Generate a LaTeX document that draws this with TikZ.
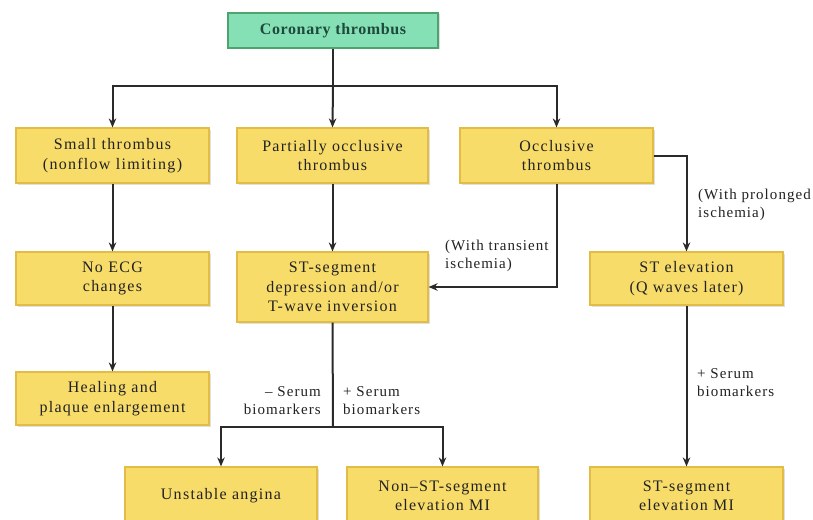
\documentclass[tikz,border=0pt]{standalone}
\usepackage{fontspec}
\setmainfont{Liberation Serif}
\newfontfamily\boxfont[LetterSpace=8]{Liberation Serif}
\newfontfamily\topfont[LetterSpace=4]{Liberation Serif}
\newfontfamily\lblfont[LetterSpace=7]{Liberation Serif}
\usetikzlibrary{arrows.meta,shadows}
\definecolor{boxfill}{HTML}{F8DC6A}
\definecolor{boxline}{HTML}{E2BC45}
\definecolor{topfill}{HTML}{86E0B6}
\definecolor{topline}{HTML}{4FA36F}
\definecolor{toptext}{HTML}{1E4A3C}
\definecolor{txt}{HTML}{222222}
\definecolor{wire}{HTML}{2A2A2A}
\tikzset{
  ybox/.style={draw=boxline, line width=1.2pt, fill=boxfill, text=txt, align=center,
    font=\boxfont\fontsize{16}{19.5}\selectfont, inner sep=2pt,
    drop shadow={shadow xshift=1.5pt, shadow yshift=-1.5pt, opacity=0.25}},
  gbox/.style={draw=topline, line width=1.3pt, fill=topfill, text=toptext, align=center,
    font=\topfont\fontsize{16}{18}\selectfont\bfseries, minimum width=210pt, minimum height=35pt,
    drop shadow={shadow xshift=1.5pt, shadow yshift=-1.5pt, opacity=0.25}},
  lbl/.style={text=txt, font=\lblfont\fontsize{15}{18}\selectfont, inner sep=0pt},
  conn/.style={draw=wire, line width=2pt},
  arr/.style={conn, -{Stealth[length=9pt,width=7.5pt]}}
}
\begin{document}
\begin{tikzpicture}[x=1pt,y=-1pt]
\useasboundingbox (0,0) rectangle (813,519);
\clip (0,0) rectangle (813,519);
\fill[white] (0,0) rectangle (813,519);
\node[gbox] (top) at (333,30.5) {Coronary thrombus};
\node[ybox, minimum width=193pt, minimum height=55pt] (small) at (112.5,155.5) {Small thrombus\\(nonflow limiting)};
\node[ybox, minimum width=191pt, minimum height=55pt] (partial) at (332.5,155.5) {Partially occlusive\\thrombus};
\node[ybox, minimum width=193pt, minimum height=55pt] (occl) at (556.5,155.5) {Occlusive\\thrombus};
\node[ybox, minimum width=193pt, minimum height=53pt] (noecg) at (112.5,278.5) {No ECG\\changes};
\node[ybox, minimum width=191pt, minimum height=70pt] (stdep) at (332.5,287) {ST-segment\\depression and/or\\T-wave inversion};
\node[ybox, minimum width=193pt, minimum height=53pt] (stel) at (686.5,278.5) {ST elevation\\(Q waves later)};
\node[ybox, minimum width=193pt, minimum height=53pt] (heal) at (112.5,398.5) {Healing and\\plaque enlargement};
\node[ybox, minimum width=192pt, minimum height=58pt] (ua) at (221,496) {Unstable angina};
\node[ybox, minimum width=191pt, minimum height=58pt] (nstemi) at (442.5,496) {Non–ST-segment\\elevation MI};
\node[ybox, minimum width=193pt, minimum height=58pt] (stemi) at (686.5,496) {ST-segment\\elevation MI};
\coordinate (j1) at (333,86);
\coordinate (j2) at (333,427);
\draw[conn] (top.south) -- (j1);
\draw[arr] (j1) -| (small.north);
\draw[arr] (j1) -| (occl.north);
\draw[arr] (j1) -- (partial.north);
\draw[arr] (small) -- (noecg);
\draw[arr] (noecg) -- (heal);
\draw[arr] (partial) -- (stdep);
\draw[arr] (occl.south) |- (stdep.east);
\draw[arr] (occl.east) -| (stel.north);
\draw[conn] (stdep.south) -- (j2);
\draw[arr] (j2) -| (ua.north);
\draw[arr] (j2) -| (nstemi.north);
\draw[arr] (stel) -- (stemi);
\node[lbl, align=left, anchor=north west] (l1) at (445,240) {(With transient\\ischemia)};
\node[lbl, align=left, anchor=north west] (l2) at (698,189) {(With prolonged\\ischemia)};
\node[lbl, align=right, anchor=north east] (l3) at (321,386) {– Serum\\biomarkers};
\node[lbl, align=left, anchor=north west] (l4) at (343,386) {+ Serum\\biomarkers};
\node[lbl, align=left, anchor=north west] (l5) at (697,368) {+ Serum\\biomarkers};
\end{tikzpicture}
\end{document}
